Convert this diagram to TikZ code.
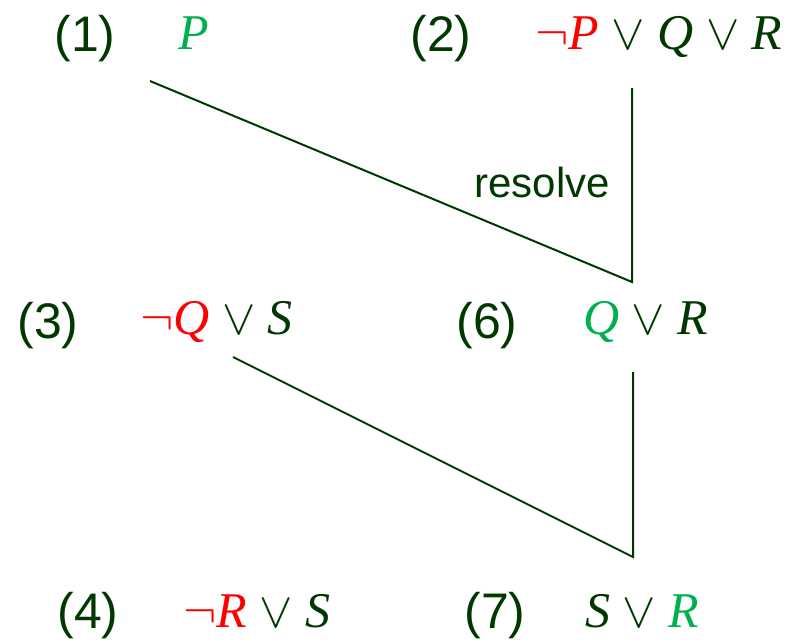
\RequirePackage{fix-cm}
\documentclass[tikz,border=0pt]{standalone}
\usepackage{fontspec}
\newfontfamily\labfont{Liberation Sans}
\newfontfamily\litfont{Liberation Serif}
\definecolor{textgreen}{RGB}{0,56,0}
\definecolor{litgreen}{RGB}{0,176,80}
\definecolor{litred}{RGB}{255,0,0}
\usetikzlibrary{positioning}
\newcommand{\lit}[1]{\textit{#1}}
\newcommand{\orr}{\ensuremath{\vee}}
\newcommand{\nott}{\ensuremath{\neg}}

\begin{document}
\begin{tikzpicture}[x=1pt, y=-1pt,
    lab/.style={anchor=base, inner sep=0pt, text=textgreen,
                font=\labfont\fontsize{50}{60}\selectfont},
    clause/.style={anchor=base west, inner sep=0pt, text=textgreen,
                font=\litfont\fontsize{50}{60}\selectfont},
    link/.style={draw=textgreen, line width=2pt}]
    \useasboundingbox (0,0) rectangle (803,643);
    % clauses, row by row
    \node[lab] (l1) at (85,51) {(1)};
    \node[clause] (c1) at (178,49) {\color{litgreen}\lit{P}};
    \node[lab] (l2) at (441,51) {(2)};
    \node[clause] (c2) at (535,49) {{\color{litred}\nott\lit{P}} \orr{} \lit{Q} \orr{} \lit{R}};
    \node[lab] (l3) at (48,338) {(3)};
    \node[clause] (c3) at (140,334) {{\color{litred}\nott\lit{Q}} \orr{} \lit{S}};
    \node[lab] (l6) at (487,338) {(6)};
    \node[clause] (c6) at (583,334) {{\color{litgreen}\lit{Q}} \orr{} \lit{R}};
    \node[lab] (l4) at (88,628) {(4)};
    \node[clause] (c4) at (183,627) {{\color{litred}\nott\lit{R}} \orr{} \lit{S}};
    \node[lab] (l7) at (495,628) {(7)};
    \node[clause] (c7) at (585,627) {\lit{S} \orr{} {\color{litgreen}\lit{R}}};
    % resolution steps
    \coordinate (a1) at (150,81);
    \coordinate (b1) at (632,88);
    \coordinate (m1) at (632,282);
    \coordinate (a2) at (233,357);
    \coordinate (b2) at (633,372);
    \coordinate (m2) at (633,557);
    \draw[link] (a1) -- (m1) -- (b1);
    \draw[link] (a2) -- (m2) -- (b2);
    \node[anchor=base, inner sep=0pt, text=textgreen,
          font=\labfont\fontsize{42}{50}\selectfont] (res) at (542,197) {resolve};
\end{tikzpicture}
\end{document}
